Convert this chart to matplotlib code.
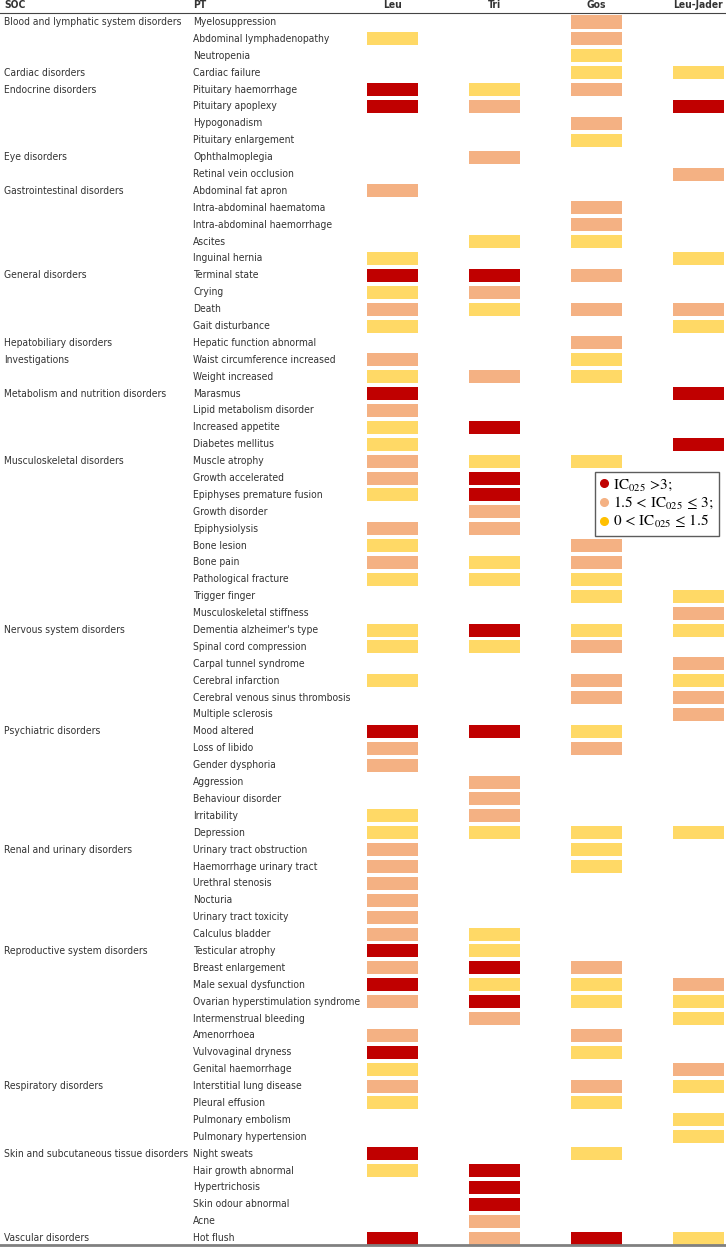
import numpy as np
import matplotlib.pyplot as plt
from matplotlib.lines import Line2D
from matplotlib import font_manager as fm

# pick a narrow sans if one is installed
names = {f.name for f in fm.fontManager.ttflist}
cond = [f for f in fm.fontManager.ttflist if f.name == 'DejaVu Sans' and 'Condensed' in f.fname]
if 'Liberation Sans Narrow' in names:
    fam, stretch, fs = 'Liberation Sans Narrow', 'normal', 8
elif cond:
    fam, stretch, fs = 'DejaVu Sans', 'condensed', 7.4
else:
    fam, stretch, fs = 'Liberation Sans', 'normal', 7.4
plt.rcParams['font.family'] = [fam, 'DejaVu Sans']
plt.rcParams['font.stretch'] = stretch
plt.rcParams['mathtext.fontset'] = 'stix'

# columns / drugs
drugs = ['Leu', 'Tri', 'Gos', 'Leu-Jader']

# system organ classes and the row where each one starts
soc_names = ['Blood and lymphatic system disorders', 'Cardiac disorders', 'Endocrine disorders',
             'Eye disorders', 'Gastrointestinal disorders', 'General disorders',
             'Hepatobiliary disorders', 'Investigations', 'Metabolism and nutrition disorders',
             'Musculoskeletal disorders', 'Nervous system disorders', 'Psychiatric disorders',
             'Renal and urinary disorders', 'Reproductive system disorders',
             'Respiratory disorders', 'Skin and subcutaneous tissue disorders', 'Vascular disorders']
soc_start = [0, 3, 4, 8, 10, 15, 19, 20, 22, 26, 36, 42, 49, 55, 63, 67, 72]

pt_names = ['Myelosuppression', 'Abdominal lymphadenopathy', 'Neutropenia', 'Cardiac failure',
            'Pituitary haemorrhage', 'Pituitary apoplexy', 'Hypogonadism', 'Pituitary enlargement',
            'Ophthalmoplegia', 'Retinal vein occlusion', 'Abdominal fat apron',
            'Intra-abdominal haematoma', 'Intra-abdominal haemorrhage', 'Ascites', 'Inguinal hernia',
            'Terminal state', 'Crying', 'Death', 'Gait disturbance', 'Hepatic function abnormal',
            'Waist circumference increased', 'Weight increased', 'Marasmus',
            'Lipid metabolism disorder', 'Increased appetite', 'Diabetes mellitus', 'Muscle atrophy',
            'Growth accelerated', 'Epiphyses premature fusion', 'Growth disorder', 'Epiphysiolysis',
            'Bone lesion', 'Bone pain', 'Pathological fracture', 'Trigger finger',
            'Musculoskeletal stiffness', "Dementia alzheimer's type", 'Spinal cord compression',
            'Carpal tunnel syndrome', 'Cerebral infarction', 'Cerebral venous sinus thrombosis',
            'Multiple sclerosis', 'Mood altered', 'Loss of libido', 'Gender dysphoria', 'Aggression',
            'Behaviour disorder', 'Irritability', 'Depression', 'Urinary tract obstruction',
            'Haemorrhage urinary tract', 'Urethral stenosis', 'Nocturia', 'Urinary tract toxicity',
            'Calculus bladder', 'Testicular atrophy', 'Breast enlargement', 'Male sexual dysfunction',
            'Ovarian hyperstimulation syndrome', 'Intermenstrual bleeding', 'Amenorrhoea',
            'Vulvovaginal dryness', 'Genital haemorrhage', 'Interstitial lung disease',
            'Pleural effusion', 'Pulmonary embolism', 'Pulmonary hypertension', 'Night sweats',
            'Hair growth abnormal', 'Hypertrichosis', 'Skin odour abnormal', 'Acne', 'Hot flush']

# signal level per PT: 0 none, 1 = 0<IC025<=1.5, 2 = 1.5<IC025<=3, 3 = IC025>3
leu = [0, 1, 0, 0, 3, 3, 0, 0, 0, 0, 2, 0, 0, 0, 1, 3, 1, 2, 1, 0, 2, 1, 3, 2, 1, 1, 2, 2, 1, 0,
       2, 1, 2, 1, 0, 0, 1, 1, 0, 1, 0, 0, 3, 2, 2, 0, 0, 1, 1, 2, 2, 2, 2, 2, 2, 3, 2, 3, 2, 0,
       2, 3, 1, 2, 1, 0, 0, 3, 1, 0, 0, 0, 3]
tri = [0, 0, 0, 0, 1, 2, 0, 0, 2, 0, 0, 0, 0, 1, 0, 3, 2, 1, 0, 0, 0, 2, 0, 0, 3, 0, 1, 3, 3, 2,
       2, 0, 1, 1, 0, 0, 3, 1, 0, 0, 0, 0, 3, 0, 0, 2, 2, 2, 1, 0, 0, 0, 0, 0, 1, 1, 3, 1, 3, 2,
       0, 0, 0, 0, 0, 0, 0, 0, 3, 3, 3, 2, 2]
gos = [2, 2, 1, 1, 2, 0, 2, 1, 0, 0, 0, 2, 2, 1, 0, 2, 0, 2, 0, 2, 1, 1, 0, 0, 0, 0, 1, 0, 0, 0,
       0, 2, 2, 1, 1, 0, 1, 2, 0, 2, 2, 0, 1, 2, 0, 0, 0, 0, 1, 1, 1, 0, 0, 0, 0, 0, 2, 1, 1, 0,
       2, 1, 0, 2, 1, 0, 0, 1, 0, 0, 0, 0, 3]
leu_jader = [0, 0, 0, 1, 0, 3, 0, 0, 0, 2, 0, 0, 0, 0, 1, 0, 0, 2, 1, 0, 0, 0, 3, 0, 0, 3, 0, 0, 0, 0,
             0, 0, 0, 0, 1, 2, 1, 0, 2, 1, 2, 2, 0, 0, 0, 0, 0, 0, 1, 0, 0, 0, 0, 0, 0, 0, 0, 2, 1, 1,
             0, 0, 2, 1, 0, 1, 1, 0, 0, 0, 0, 0, 1]

level_colors = {1: '#FFD966', 2: '#F4B183', 3: '#C00000'}
legend_labels = ['IC$_{025}$ >3;', '1.5 < IC$_{025}$ ≤ 3;', '0 < IC$_{025}$ ≤ 1.5']
legend_colors = ['#C00000', '#F4B183', '#FFC000']

# layout (pixels along x, row units along y)
col_x = [392.5, 494.5, 596.5, 698.5]
cell_w = 51
pitch = 16.89
y_first = 22

fig = plt.figure(figsize=(7.26, 12.49), dpi=100)
ax = fig.add_axes([0, 0, 1, 1])
ax.set_xlim(0, 726)
ax.set_ylim((1249 - y_first) / pitch, -y_first / pitch)
ax.axis('off')

rows = np.arange(len(pt_names))
for cx, vals in zip(col_x, [leu, tri, gos, leu_jader]):
    vals = np.array(vals)
    for lvl, c in level_colors.items():
        m = vals == lvl
        ax.barh(rows[m], cell_w, left=cx - cell_w / 2, height=0.77, color=c, edgecolor='none')

txt = '#333333'
for name, r in zip(soc_names, soc_start):
    ax.text(4, r, name, fontsize=fs, color=txt, va='center', ha='left')
for r, name in enumerate(pt_names):
    ax.text(193, r, name, fontsize=fs, color=txt, va='center', ha='left')

# header
hy = -1.02
ax.text(4, hy, 'SOC', fontsize=fs, fontweight='bold', color=txt, va='center')
ax.text(193, hy, 'PT', fontsize=fs, fontweight='bold', color=txt, va='center')
for cx, d in zip(col_x, drugs):
    ax.text(cx, hy, d, fontsize=fs, fontweight='bold', color=txt, va='center', ha='center')

ax.axhline(-0.53, color='#444444', lw=0.8)
ax.axhline(72.42, color='#808080', lw=2)

handles = [Line2D([], [], marker='o', ls='none', ms=5.5, markerfacecolor=c, markeredgecolor=c)
           for c in legend_colors]
leg = ax.legend(handles, legend_labels, loc='upper left', bbox_to_anchor=(595 / 726, 1 - 472 / 1249),
                borderaxespad=0, frameon=True, fancybox=False, edgecolor='#333333',
                handlelength=0.5, handletextpad=0.35, borderpad=0.35, labelspacing=0.15,
                prop={'family': 'STIXGeneral', 'size': 11})
leg.get_frame().set_linewidth(1.0)

fig.savefig('out.png', dpi=100)
